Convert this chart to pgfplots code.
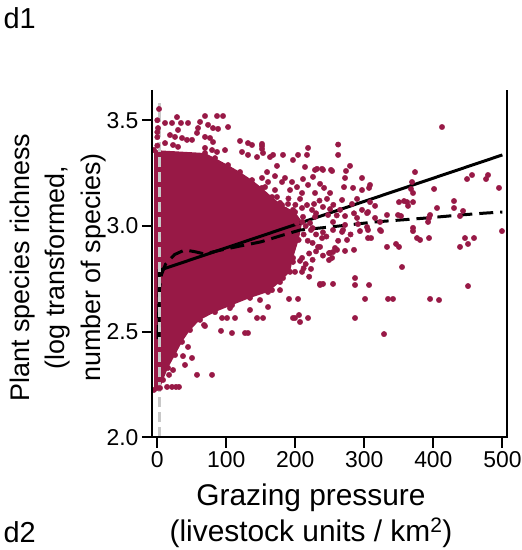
\documentclass[border=0pt]{standalone}
\usepackage{fontspec}
\setmainfont{Liberation Sans}
\usepackage{pgfplots}
\pgfplotsset{compat=1.18}
\definecolor{burg}{RGB}{152,25,70}
\definecolor{refgray}{RGB}{200,200,200}

% dense core of the cloud (outline)
\pgfplotstableread{
x y
-4.8 3.359
69.1 3.345
83.6 3.321
102.5 3.288
119.9 3.255
137.2 3.217
151.7 3.180
166.2 3.137
180.7 3.099
199.6 3.066
210.1 3.019
204.8 2.934
196.7 2.849
192.3 2.783
177.8 2.735
160.4 2.688
134.3 2.660
108.3 2.626
83.6 2.593
61.9 2.556
47.4 2.508
35.8 2.452
25.7 2.390
15.5 2.329
8.3 2.272
3.9 2.234
-4.8 2.225
}\core

\pgfplotstableread{
x y
2.5 3.553
69.1 3.520
86.5 3.520
95.2 3.520
28.5 3.515
11.2 3.487
21.3 3.487
34.3 3.487
44.5 3.487
61.9 3.492
73.5 3.478
80.7 3.463
102.5 3.468
88.0 3.459
1.0 3.463
0 3.444
0 3.50
0 3.42
0 3.38
30.0 3.454
59.0 3.463
57.5 3.440
18.4 3.430
25.6 3.421
35.8 3.416
43.0 3.407
50.3 3.407
69.1 3.421
76.4 3.416
80.7 3.397
119.8 3.402
131.4 3.392
137.2 3.383
151.7 3.378
11.2 3.392
22.8 3.383
30.0 3.374
69.1 3.369
79.3 3.359
86.5 3.350
98.1 3.359
122.7 3.350
131.4 3.336
144.5 3.326
153.2 3.345
163.3 3.326
167.7 3.336
182.1 3.336
196.6 3.312
203.9 3.336
216.9 3.336
218.4 3.369
214.0 3.279
228.5 3.265
238.7 3.270
253.2 3.260
262.0 3.385
262.0 3.336
151.7 3.388
151.7 3.364
173.4 3.284
231.4 3.270
240.1 3.265
251.7 3.265
279.2 3.284
273.4 3.260
159.0 3.255
170.5 3.236
185.0 3.227
211.1 3.222
225.6 3.232
272.0 3.227
296.6 3.227
151.7 3.227
160.4 3.208
180.7 3.208
195.2 3.208
202.4 3.184
218.4 3.194
235.8 3.199
241.6 3.180
270.5 3.184
283.6 3.180
296.6 3.170
308.2 3.194
156.1 3.184
170.5 3.170
192.3 3.170
209.7 3.156
228.5 3.156
250.3 3.156
173.4 3.137
206.8 3.128
245.9 3.128
267.7 3.123
289.4 3.128
308.2 3.113
177.8 3.109
189.4 3.104
216.9 3.099
227.1 3.104
282.1 3.104
315.5 3.095
159.0 3.085
185.0 3.076
196.6 3.076
209.7 3.085
224.2 3.076
250.3 3.080
264.8 3.076
296.6 3.076
305.3 3.066
163.3 3.047
177.8 3.043
211.1 3.043
228.5 3.043
247.4 3.052
272.0 3.047
289.4 3.038
303.9 3.061
315.5 3.038
156.1 3.019
202.4 3.014
221.3 3.014
254.6 3.019
272.0 3.005
290.8 3.009
303.9 2.995
322.7 3.019
412.5 3.468
373.4 3.255
369.1 3.208
367.6 3.175
370.5 3.156
401.0 3.175
448.8 3.222
456.0 3.241
476.3 3.222
479.2 3.241
495.1 3.180
350.2 3.113
357.5 3.118
363.3 3.095
370.5 3.113
361.9 3.113
429.9 3.118
429.9 3.085
405.3 3.085
443.0 3.071
332.8 3.052
348.8 3.052
353.1 3.047
395.2 3.052
438.6 3.047
393.7 3.038
392.3 3.019
370.5 2.991
499.4 2.976
393.7 2.943
376.3 2.943
380.7 2.934
370.5 2.976
445.8 2.943
458.9 2.943
450.2 2.915
438.6 2.901
332.8 2.901
345.9 2.915
350.2 2.901
354.6 2.806
450.2 2.716
334.3 2.655
341.5 2.655
395.2 2.655
408.2 2.650
301.0 2.655
286.5 2.754
286.5 2.721
306.8 2.721
254.6 2.726
235.8 2.721
240.1 2.726
222.7 2.797
306.8 3.180
324.2 2.976
309.7 2.943
305.3 2.943
293.7 2.976
274.9 2.934
267.7 2.972
257.5 2.896
260.4 2.887
254.6 2.877
253.2 2.849
250.3 2.872
238.7 2.943
232.9 2.901
209.7 2.849
209.7 2.783
328.5 2.489
222.7 2.981
235.8 2.901
248.8 2.872
248.8 2.839
272.0 2.882
285.0 2.887
269.1 2.981
254.6 2.981
305.3 2.981
322.7 2.981
235.8 2.726
190.8 2.655
203.9 2.655
160.4 2.617
199.5 2.565
205.3 2.579
206.8 2.546
218.4 2.565
144.5 2.565
153.2 2.565
286.5 2.565
134.3 2.603
182.1 2.754
199.5 2.783
196.6 2.830
206.8 2.835
166.2 2.697
148.8 2.650
177.8 2.697
93.8 2.565
101.0 2.565
112.6 2.565
196.6 2.565
67.7 2.532
92.3 2.504
108.2 2.494
127.1 2.494
131.4 2.494
105.3 2.612
69.1 2.527
44.5 2.428
37.2 2.385
50.3 2.376
40.1 2.343
22.8 2.319
17.0 2.296
57.5 2.296
79.3 2.296
14.1 2.239
21.3 2.239
27.1 2.239
31.4 2.239
0 2.234
215 3.000
225 2.990
230 2.960
240 2.970
245 2.950
212 2.960
218 2.930
225 2.920
230 2.880
220 2.870
215 2.820
225 2.840
240 2.860
212 2.800
220 2.760
230 3.060
240 3.090
255 3.100
235 3.120
260 3.050
262 2.930
280 2.960
285 3.060
190 3.130
200 3.100
}\pts

\begin{document}
\begin{tikzpicture}[x=1bp,y=1bp]
\path[use as bounding box] (-152,-112.5) rectangle (370,437.5);
\begin{axis}[
  at={(0,0)}, anchor=south west,
  scale only axis, width=355bp, height=347.5bp,
  xmin=-7.7, xmax=506.7, ymin=2.0, ymax=3.643,
  axis line style={draw=none},
  xtick={0,100,...,500}, ytick={2.0,2.5,3.0,3.5},
  tick pos=left, tick align=outside,
  major tick length=10bp,
  every tick/.style={black, line width=2bp},
  tick label style={font=\fontsize{23}{23}\selectfont},
  /pgf/number format/assume math mode=true,
  yticklabel style={/pgf/number format/fixed, /pgf/number format/fixed zerofill,
    /pgf/number format/precision=1},
  clip=false,
]
\addplot[draw=none, fill=burg] table {\core} -- cycle;
\addplot[only marks, mark=*, mark size=2.7bp, mark options={draw=burg, fill=burg}] table {\core};
\addplot[only marks, mark=*, mark size=2.7bp, mark options={draw=burg, fill=burg}] table {\pts};
\addplot[black, line width=3bp] coordinates {(2.5,2.465) (2.5,2.79) (500,3.336)};
\addplot[black, line width=3bp, dash pattern=on 14bp off 7bp] coordinates {
  (1,2.465) (3,2.70) (6,2.77) (12,2.82) (25,2.865) (40,2.887) (55,2.878) (68,2.868)
  (100,2.892) (150,2.925) (180,2.955) (207,2.981) (250,2.995) (315,3.019)
  (391,3.038) (439,3.052) (475,3.061) (500,3.066)};
\addplot[refgray, line width=3bp, dash pattern=on 10bp off 5bp] coordinates {(3.5,2.0) (3.5,3.58)};
\end{axis}
\draw[line width=2bp] (0,347.5) -- (0,0) -- (355,0) -- (355,347.5);
\node[rotate=90, align=center, font=\fontsize{27}{36}\selectfont] at (-94,170)
  {Plant species richness\\(log transformed,\\number of species)};
\node[align=center, font=\fontsize{30}{36}\selectfont] at (159,-78)
  {Grazing pressure\\(livestock units / km\textsuperscript{2})};
\node[anchor=west, font=\fontsize{29}{29}\selectfont] at (-152,419) {d1};
\node[anchor=west, font=\fontsize{29}{29}\selectfont] at (-152,-95) {d2};
\end{tikzpicture}
\end{document}
